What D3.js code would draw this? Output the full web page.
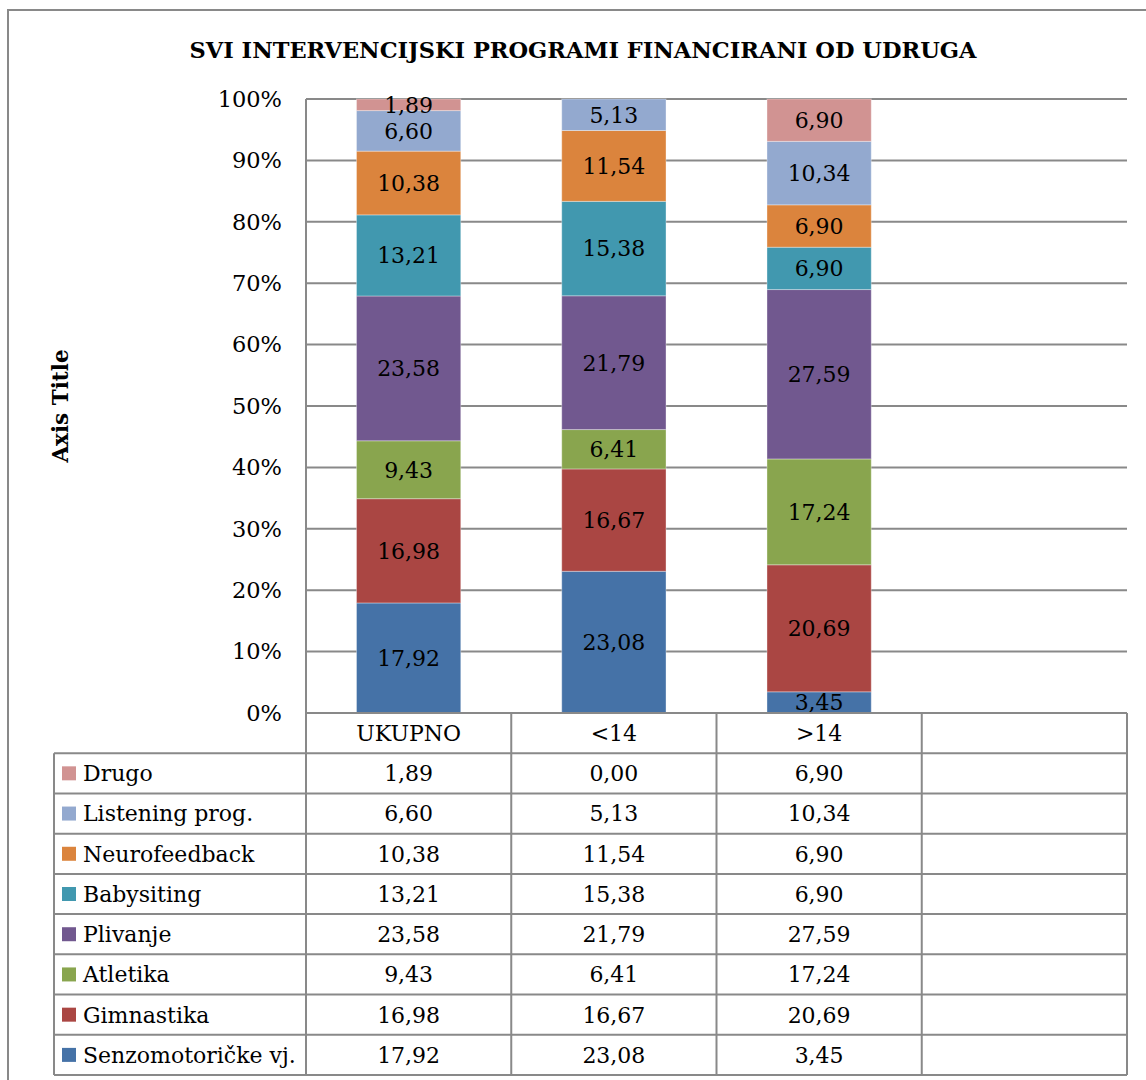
<!DOCTYPE html>
<html>
<head>
<meta charset="utf-8">
<script src="https://cdn.jsdelivr.net/npm/d3@7"></script>
<style>
  body { margin: 0; background: #fff; }
  svg { display: block; }
  text { font-family: "DejaVu Serif", serif; fill: #000; }
</style>
</head>
<body>
<svg id="chart"></svg>
<script>
// categories (4th is the empty column of the original sheet)
var categories = ["UKUPNO", "<14", ">14", ""];

// series, bottom of the stack first
var seriesNames = ["Senzomotoričke vj.", "Gimnastika", "Atletika", "Plivanje",
                   "Babysiting", "Neurofeedback", "Listening prog.", "Drugo"];
var senzomotoricke = [17.92, 23.08, 3.45];
var gimnastika     = [16.98, 16.67, 20.69];
var atletika       = [9.43, 6.41, 17.24];
var plivanje       = [23.58, 21.79, 27.59];
var babysiting     = [13.21, 15.38, 6.90];
var neurofeedback  = [10.38, 11.54, 6.90];
var listening      = [6.60, 5.13, 10.34];
var drugo          = [1.89, 0.00, 6.90];
var seriesValues = [senzomotoricke, gimnastika, atletika, plivanje,
                    babysiting, neurofeedback, listening, drugo];

var colors = ["#4572a7", "#aa4643", "#89a54e", "#71588f",
              "#4198af", "#db843d", "#93a9cf", "#d19392"];

var yTicks = [0, 0.1, 0.2, 0.3, 0.4, 0.5, 0.6, 0.7, 0.8, 0.9, 1];

var title = "SVI INTERVENCIJSKI PROGRAMI FINANCIRANI OD UDRUGA";
var axisTitle = "Axis Title";

var width = 1146, height = 1080;
var margin = {top: 99, right: 19, bottom: 367, left: 306};
var tableLeft = 54;
var nRows = seriesNames.length + 1;
var fontSize = 22;

var svg = d3.select("#chart")
    .attr("width", width)
    .attr("height", height);

var fmt = function(v) { return v.toFixed(2).replace(".", ","); };

// build table rows for the stack
var rows = categories.slice(0, 3).map(function(c, i) {
  var r = {cat: c};
  seriesNames.forEach(function(s, j) { r[s] = seriesValues[j][i]; });
  return r;
});

var stack = d3.stack()
    .keys(seriesNames)
    .offset(d3.stackOffsetExpand);
var stacked = stack(rows);

var xScale = d3.scaleBand()
    .domain(categories)
    .range([margin.left, width - margin.right]);
var yScale = d3.scaleLinear()
    .domain([0, 1])
    .range([height - margin.bottom, margin.top]);

var bottomY = yScale(0);
var rowH = (height - 5 - bottomY) / nRows;
var tableBottom = bottomY + rowH * nRows;

var grey = "#898989";

// outer chart border
svg.append("rect")
    .attr("x", 8)
    .attr("y", 10)
    .attr("width", width + 20)
    .attr("height", height + 20)
    .attr("fill", "none")
    .attr("stroke", grey)
    .attr("stroke-width", 2);

// title
svg.append("text")
    .attr("x", 583)
    .attr("y", 58)
    .attr("text-anchor", "middle")
    .attr("font-weight", "bold")
    .attr("font-size", 22.5)
    .text(title);

// gridlines
svg.append("g")
  .selectAll("line")
  .data(yTicks)
  .join("line")
    .attr("x1", margin.left)
    .attr("x2", width - margin.right)
    .attr("y1", d => yScale(d))
    .attr("y2", d => yScale(d))
    .attr("stroke", grey)
    .attr("stroke-width", 2);

// y axis labels
var yAxis = svg.append("g")
    .attr("transform", "translate(" + margin.left + ",0)")
    .call(d3.axisLeft(yScale)
      .tickValues(yTicks)
      .tickFormat(d => Math.round(d * 100) + "%")
      .tickSize(0)
      .tickPadding(24));
yAxis.select(".domain").remove();
yAxis.selectAll("text")
    .attr("font-family", "DejaVu Serif")
    .attr("font-size", 22.5)
    .attr("fill", "#000");

// axis title
svg.append("text")
    .attr("transform", "translate(68," + 406 + ") rotate(-90)")
    .attr("text-anchor", "middle")
    .attr("font-weight", "bold")
    .attr("font-size", 21.5)
    .text(axisTitle);

// bars
var barW = xScale.bandwidth() * 0.508;
var barOff = (xScale.bandwidth() - barW) / 2;

var layers = svg.append("g")
  .selectAll("g")
  .data(stacked)
  .join("g")
    .attr("fill", (d, i) => colors[i]);

layers.selectAll("rect")
  .data(d => d)
  .join("rect")
    .attr("x", d => xScale(d.data.cat) + barOff)
    .attr("y", d => yScale(d[1]))
    .attr("width", barW)
    .attr("height", d => yScale(d[0]) - yScale(d[1]))
    .attr("stroke", "rgba(255,255,255,0.35)")
    .attr("stroke-width", 1);

// data labels
layers.selectAll("text")
  .data((d, i) => d.map(p => ({p: p, v: seriesValues[i][categories.indexOf(p.data.cat)]})))
  .join("text")
    .filter(d => d.v > 0)
    .attr("x", d => xScale(d.p.data.cat) + xScale.bandwidth() / 2)
    .attr("y", d => (yScale(d.p[0]) + yScale(d.p[1])) / 2)
    .attr("dy", "0.36em")
    .attr("text-anchor", "middle")
    .attr("font-size", fontSize)
    .attr("fill", "#000")
    .text(d => fmt(d.v));

// data table
var table = svg.append("g");

// horizontal lines of the table
d3.range(nRows + 1).forEach(function(i) {
  table.append("line")
      .attr("x1", i === 0 ? margin.left : tableLeft)
      .attr("x2", width - margin.right)
      .attr("y1", bottomY + i * rowH)
      .attr("y2", bottomY + i * rowH)
      .attr("stroke", grey)
      .attr("stroke-width", 2);
});

// vertical lines
var colEdges = categories.map(c => xScale(c)).concat([width - margin.right]);
colEdges.forEach(function(x, i) {
  table.append("line")
      .attr("x1", x)
      .attr("x2", x)
      .attr("y1", i === 0 ? margin.top : bottomY)
      .attr("y2", tableBottom)
      .attr("stroke", grey)
      .attr("stroke-width", 2);
});
table.append("line")
    .attr("x1", tableLeft)
    .attr("x2", tableLeft)
    .attr("y1", bottomY + rowH)
    .attr("y2", tableBottom)
    .attr("stroke", grey)
    .attr("stroke-width", 2);

// header row with category names
table.selectAll("text.cat")
  .data(categories)
  .join("text")
    .attr("class", "cat")
    .attr("x", d => xScale(d) + xScale.bandwidth() / 2)
    .attr("y", bottomY + rowH / 2)
    .attr("dy", "0.36em")
    .attr("text-anchor", "middle")
    .attr("font-size", fontSize)
    .text(d => d);

// body rows, top series first
var tableOrder = d3.range(seriesNames.length).reverse();
tableOrder.forEach(function(j, r) {
  var cy = bottomY + rowH * (r + 1) + rowH / 2;
  table.append("rect")
      .attr("x", 62)
      .attr("y", cy - 7)
      .attr("width", 14)
      .attr("height", 14)
      .attr("fill", colors[j]);
  table.append("text")
      .attr("x", 83)
      .attr("y", cy)
      .attr("dy", "0.36em")
      .attr("font-size", fontSize)
      .text(seriesNames[j]);
  seriesValues[j].forEach(function(v, i) {
    table.append("text")
        .attr("x", xScale(categories[i]) + xScale.bandwidth() / 2)
        .attr("y", cy)
        .attr("dy", "0.36em")
        .attr("text-anchor", "middle")
        .attr("font-size", fontSize)
        .text(fmt(v));
  });
});
</script>
</body>
</html>
